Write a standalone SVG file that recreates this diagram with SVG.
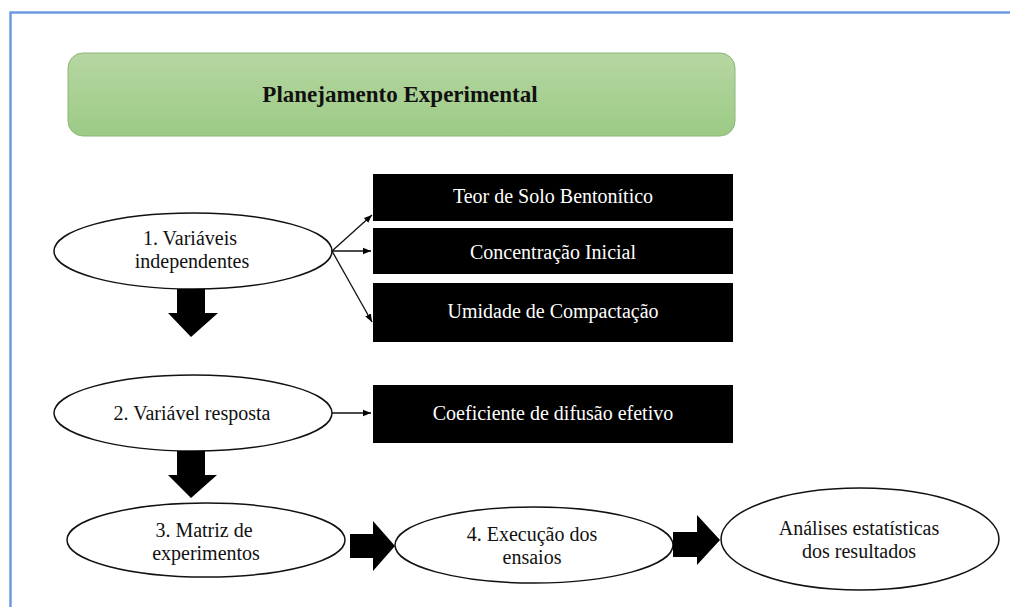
<svg xmlns="http://www.w3.org/2000/svg" width="1010" height="607" viewBox="0 0 1010 607">
<defs>
<linearGradient id="g" x1="0" y1="0" x2="0" y2="1">
<stop offset="0" stop-color="#b6d6a2"/>
<stop offset="1" stop-color="#9ccb85"/>
</linearGradient>
<marker id="ah" viewBox="0 0 10 10" refX="10" refY="5" markerWidth="8" markerHeight="8" markerUnits="userSpaceOnUse" orient="auto">
<path d="M0,1 L10,5 L0,9 Z" fill="#000"/>
</marker>
<style>
text{font-family:'Liberation Serif','Times New Roman','DejaVu Serif',serif;font-size:20px;text-anchor:middle}
.t{fill:#111}
.w{fill:#fff}
.e{fill:#fff;stroke:#111;stroke-width:1.5}
.b{fill:#000}
.c{stroke:#111;stroke-width:1.3;fill:none;marker-end:url(#ah)}
.big{fill:#000}
</style>
</defs>
<rect width="1010" height="607" fill="#fff"/>
<path d="M10.5,607 V12.5 H1010" fill="none" stroke="#6c9be0" stroke-width="2.5"/>

<g id="title">
<rect x="68" y="53" width="667" height="83" rx="15" fill="url(#g)" stroke="#8db679" stroke-width="1"/>
<text x="400" y="102" class="t" style="font-weight:bold;font-size:23px">Planejamento Experimental</text>
</g>

<g id="n1">
<ellipse cx="193" cy="251" rx="139" ry="38" class="e"/>
<text x="190" y="245" class="t">1. Variáveis</text>
<text x="192" y="268" class="t">independentes</text>
</g>
<g id="b1"><rect x="373" y="174" width="360" height="47" class="b"/><text x="553" y="203" class="w">Teor de Solo Bentonítico</text></g>
<g id="b2"><rect x="373" y="228" width="360" height="46" class="b"/><text x="553" y="259" class="w">Concentração Inicial</text></g>
<g id="b3"><rect x="373" y="283" width="360" height="59" class="b"/><text x="553" y="318" class="w">Umidade de Compactação</text></g>

<g id="n2">
<ellipse cx="193" cy="413" rx="139" ry="38" class="e"/>
<text x="192" y="420" class="t">2. Variável resposta</text>
</g>
<g id="b4"><rect x="373" y="385" width="360" height="58" class="b"/><text x="553" y="420" class="w">Coeficiente de difusão efetivo</text></g>

<g id="n3">
<ellipse cx="206" cy="540" rx="139" ry="37" class="e"/>
<text x="204" y="537" class="t">3. Matriz de</text>
<text x="206" y="560" class="t">experimentos</text>
</g>
<g id="n4">
<ellipse cx="534" cy="545" rx="139" ry="38" class="e"/>
<text x="532" y="541" class="t">4. Execução dos</text>
<text x="532" y="564" class="t">ensaios</text>
</g>
<g id="n5">
<ellipse cx="860" cy="539" rx="139" ry="51" class="e"/>
<text x="859" y="535" class="t">Análises estatísticas</text>
<text x="859" y="558" class="t">dos resultados</text>
</g>

<g id="connectors">
<line x1="332" y1="251" x2="372" y2="215" class="c"/>
<line x1="332" y1="251" x2="371" y2="251" class="c"/>
<line x1="332" y1="251" x2="372" y2="322" class="c"/>
<line x1="332" y1="413" x2="371" y2="413" class="c"/>
<path class="big" d="M177,289 H205 V313 H218 L191,337 L168,313 H177 Z"/>
<path class="big" d="M177,451 H205 V475 H217 L191,498 L168,475 H177 Z"/>
<path class="big" d="M350,534 H373 V521 L395,546 L373,571 V558 H350 Z"/>
<path class="big" d="M673,532 H697 V515 L720,540 L697,565 V557 H673 Z"/>
</g>
</svg>
